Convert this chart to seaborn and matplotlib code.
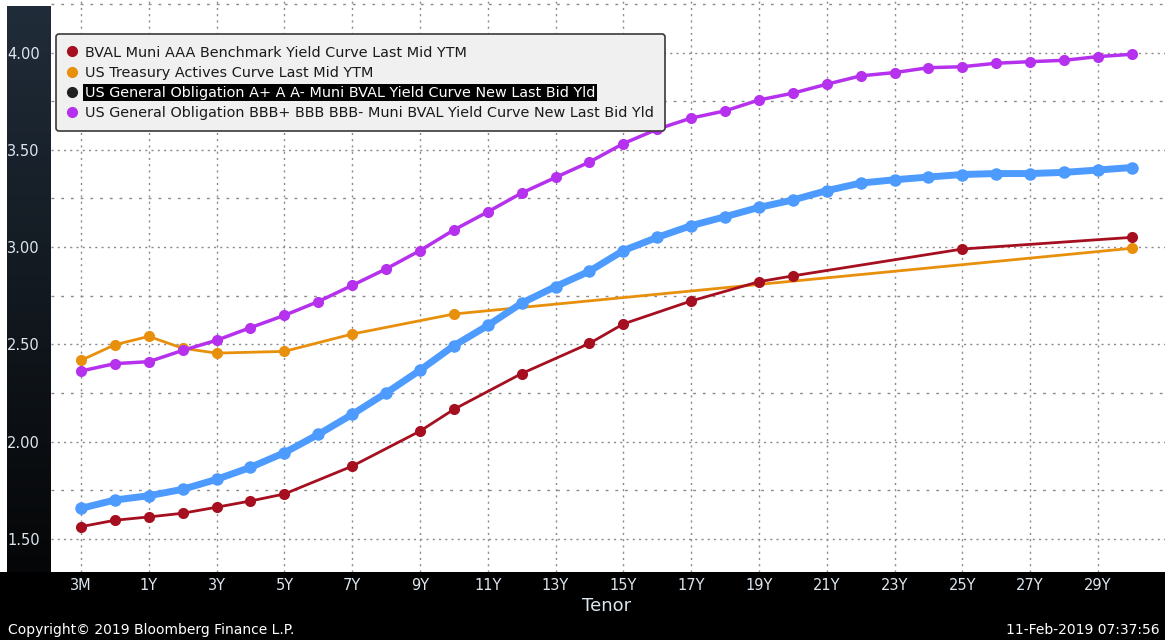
import numpy as np
import pandas as pd
import seaborn as sns
import matplotlib.pyplot as plt
from matplotlib.lines import Line2D
from matplotlib.patches import Rectangle
from matplotlib.colors import LinearSegmentedColormap
from matplotlib.ticker import MultipleLocator, FormatStrFormatter

# Tenor axis (ordinal)
tenors = ['3M', '6M', '1Y', '2Y', '3Y', '4Y', '5Y', '6Y', '7Y', '8Y', '9Y', '10Y',
          '11Y', '12Y', '13Y', '14Y', '15Y', '16Y', '17Y', '18Y', '19Y', '20Y',
          '21Y', '22Y', '23Y', '24Y', '25Y', '26Y', '27Y', '28Y', '29Y', '30Y']

# BVAL Muni AAA
aaa_tenors = ['3M', '6M', '1Y', '2Y', '3Y', '4Y', '5Y', '7Y', '9Y', '10Y', '12Y',
              '14Y', '15Y', '17Y', '19Y', '20Y', '25Y', '30Y']
aaa_ylds = [1.563, 1.596, 1.613, 1.632, 1.663, 1.695, 1.731, 1.874, 2.054, 2.166,
            2.350, 2.505, 2.605, 2.723, 2.822, 2.852, 2.990, 3.050]

# US Treasury actives
ust_tenors = ['3M', '6M', '1Y', '2Y', '3Y', '5Y', '7Y', '10Y', '30Y']
ust_ylds = [2.418, 2.498, 2.541, 2.480, 2.455, 2.464, 2.553, 2.656, 2.994]

# GO A+ A A-
a_ylds = [1.657, 1.700, 1.722, 1.755, 1.806, 1.868, 1.943, 2.037, 2.140, 2.250,
          2.367, 2.493, 2.597, 2.712, 2.797, 2.876, 2.982, 3.050, 3.110, 3.156,
          3.204, 3.242, 3.290, 3.329, 3.346, 3.360, 3.373, 3.378, 3.378, 3.384,
          3.396, 3.409]

# GO BBB+ BBB BBB-
bbb_ylds = [2.363, 2.401, 2.411, 2.469, 2.521, 2.586, 2.649, 2.720, 2.803, 2.888,
            2.982, 3.088, 3.181, 3.278, 3.358, 3.437, 3.532, 3.606, 3.663, 3.700,
            3.756, 3.791, 3.837, 3.880, 3.897, 3.922, 3.927, 3.945, 3.953, 3.960,
            3.979, 3.991]

labels = ['BVAL Muni AAA Benchmark Yield Curve Last Mid YTM',
          'US Treasury Actives Curve Last Mid YTM',
          'US General Obligation A+ A A- Muni BVAL Yield Curve New Last Bid Yld',
          'US General Obligation BBB+ BBB BBB- Muni BVAL Yield Curve New Last Bid Yld']

pos = {t: i for i, t in enumerate(tenors)}

def frame(tn, yl):
    return pd.DataFrame({'pos': [pos[t] for t in tn], 'yld': yl})

df_aaa = frame(aaa_tenors, aaa_ylds)
df_ust = frame(ust_tenors, ust_ylds)
df_a = frame(tenors, a_ylds)
df_bbb = frame(tenors, bbb_ylds)

sns.set_theme(style='white')
plt.rcParams['font.family'] = ['DejaVu Sans']

W, H = 1165, 640
fig = plt.figure(figsize=(W / 100, H / 100), dpi=100, facecolor='white')

# black band at bottom (behind the axes)
fig.patches.append(Rectangle((0, 0), 1, 68 / H, transform=fig.transFigure,
                             facecolor='black', edgecolor='none', zorder=-5))

# dark gradient panel for the y axis
pan = fig.add_axes([7 / W, 68 / H, 44 / W, (572 - 6) / H])
pan.set_zorder(-1)
cmap = LinearSegmentedColormap.from_list('pan', ['#202c39', '#050607'])
pan.imshow(np.linspace(0, 1, 200).reshape(-1, 1), aspect='auto', cmap=cmap)
pan.axis('off')

ax = fig.add_axes([51 / W, 68 / H, (W - 51) / W, (H - 68) / H])
ax.set_facecolor('white')

sns.lineplot(data=df_ust, x='pos', y='yld', ax=ax, color='#e8900c', lw=2,
             marker='o', markersize=8, markeredgewidth=0)
sns.lineplot(data=df_aaa, x='pos', y='yld', ax=ax, color='#a50f1f', lw=2,
             marker='o', markersize=8, markeredgewidth=0)
sns.lineplot(data=df_bbb, x='pos', y='yld', ax=ax, color='#b531ed', lw=2.5,
             marker='o', markersize=8, markeredgewidth=0)
sns.lineplot(data=df_a, x='pos', y='yld', ax=ax, color='#4d9bff', lw=5,
             marker='o', markersize=9, markeredgewidth=0)

ax.set_xlim(-0.885, 31.98)
ax.set_ylim(1.33, 4.27)
ax.set_xticks(range(0, len(tenors), 2))
ax.set_xticklabels(tenors[::2])
ax.yaxis.set_major_locator(MultipleLocator(0.5))
ax.yaxis.set_minor_locator(MultipleLocator(0.25))
ax.yaxis.set_major_formatter(FormatStrFormatter('%.2f'))
ax.set_xlabel('')
ax.set_ylabel('')
for s in ax.spines.values():
    s.set_visible(False)

ax.tick_params(axis='both', which='both', colors='white', labelcolor='#dde6ef',
               labelsize=10.5, direction='out')
ax.tick_params(axis='y', which='major', length=5, width=1.2, pad=3)
ax.tick_params(axis='y', which='minor', length=3, width=1)
ax.tick_params(axis='x', which='major', length=4, width=1, pad=0)

ax.grid(True, which='major', axis='both', color='#8a8a8a', lw=1,
        linestyle=(0, (1.5, 3)))
ax.grid(True, which='minor', axis='y', color='#8a8a8a', lw=1,
        linestyle=(0, (2, 5)))
ax.set_axisbelow(True)

handles = [Line2D([], [], marker='o', linestyle='none', color=c, markersize=7)
           for c in ['#a50f1f', '#e8900c', '#202020', '#b531ed']]
leg = ax.legend(handles, labels, loc='upper left',
                bbox_to_anchor=(5 / (W - 51), 1 - 34 / (H - 68)),
                borderaxespad=0, fontsize=10.4, frameon=True, fancybox=True,
                facecolor='#f0f0f0', edgecolor='#3a3a3a', framealpha=1,
                handlelength=0.6, handletextpad=0.6, labelspacing=0.42,
                borderpad=0.8)
leg.get_frame().set_linewidth(1.2)
for t in leg.get_texts():
    t.set_color('#1a1a1a')
txt = leg.get_texts()[2]
txt.set_color('white')
txt.set_bbox(dict(facecolor='black', edgecolor='none', pad=1))

fig.text(607 / W, 1 - 606 / H, 'Tenor', ha='center', va='center',
         color='#dde6ef', fontsize=13)
fig.text(8 / W, 1 - 630 / H, 'Copyright\u00a9 2019 Bloomberg Finance L.P.',
         ha='left', va='center', color='white', fontsize=10)
fig.text(1160 / W, 1 - 630 / H, '11-Feb-2019 07:37:56',
         ha='right', va='center', color='white', fontsize=10)

fig.savefig('out.png', dpi=100, facecolor=fig.get_facecolor())
